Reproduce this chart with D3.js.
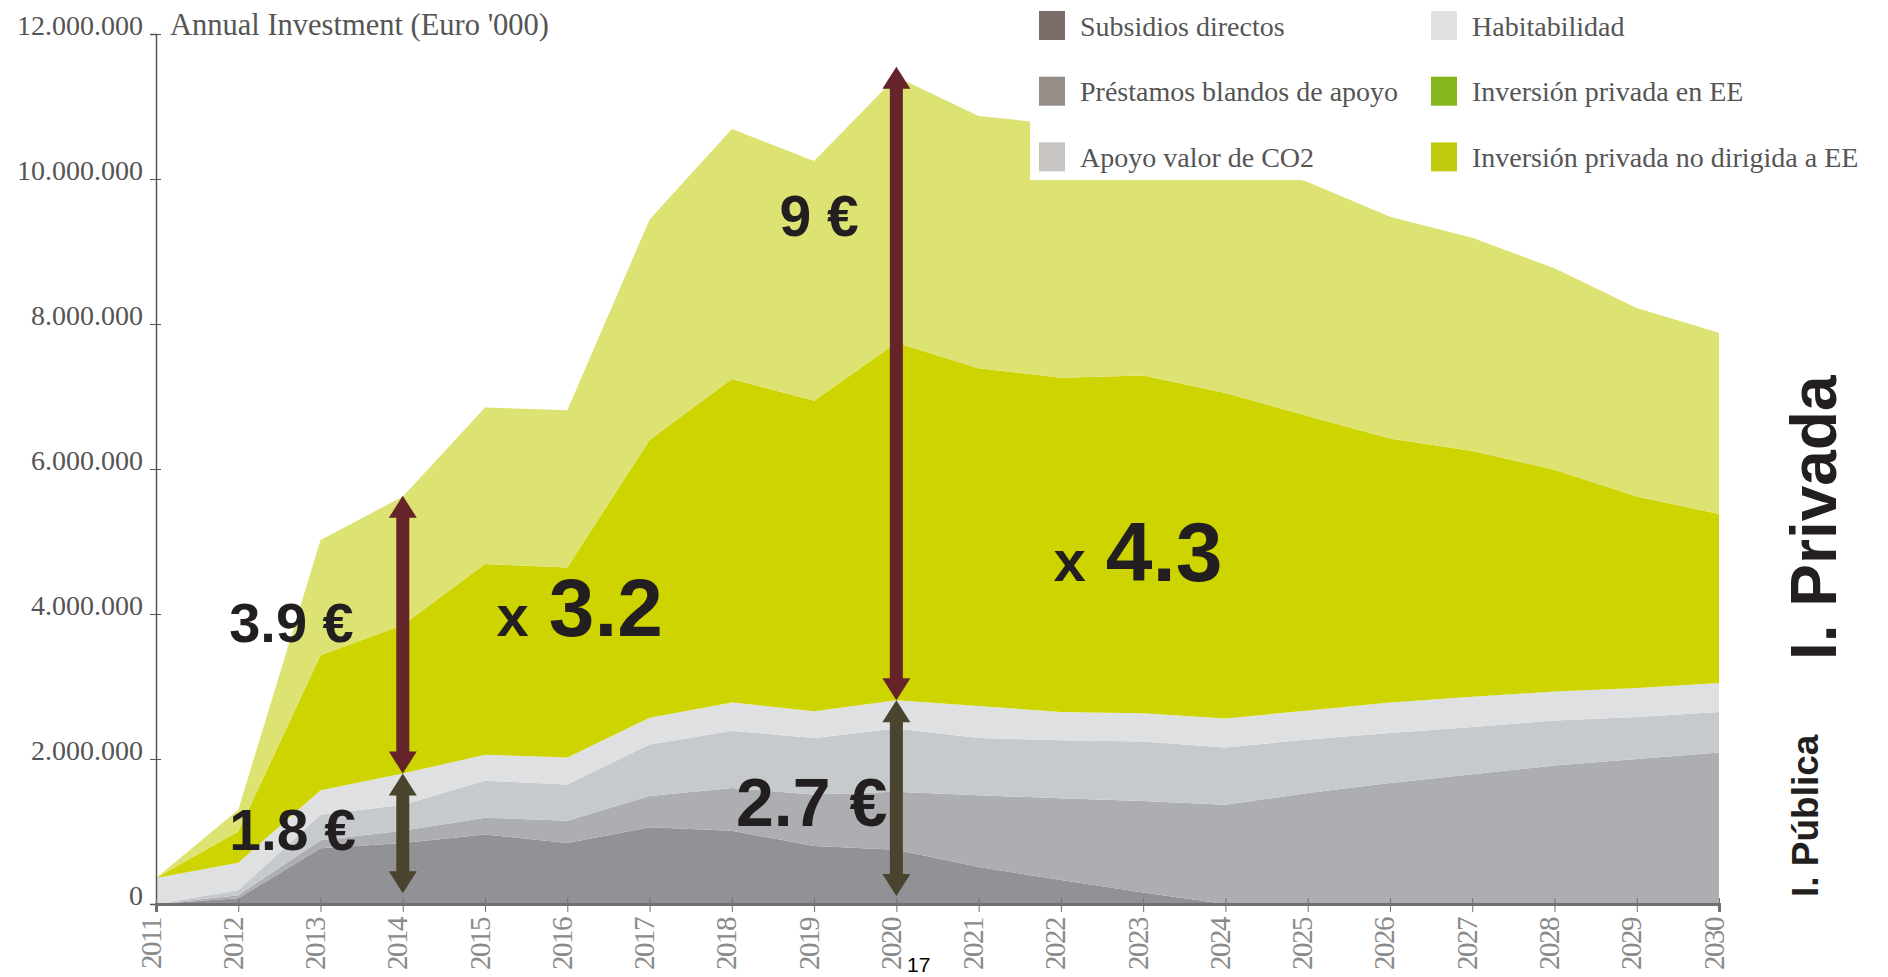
<!DOCTYPE html>
<html>
<meta charset="utf-8">
<title>Annual Investment</title>
<style>
	body { margin: 0; background-color: #ffffff; }
	.tick text, .title, .legend text { font-family: "Liberation Serif", serif; fill: #555555; }
	.note { font-family: "Liberation Sans", Arial, sans-serif; font-weight: bold; fill: #231f20; }
</style>
<body>
<div id="chart"></div>
<script src="https://d3js.org/d3.v7.min.js"></script>
<script>

// Data (Euro '000)
var years = [2011, 2012, 2013, 2014, 2015, 2016, 2017, 2018, 2019, 2020,
	2021, 2022, 2023, 2024, 2025, 2026, 2027, 2028, 2029, 2030];
var subsidios = [0, 80000, 770000, 840000, 960000, 840000, 1060000, 1010000, 800000, 750000,
	510000, 330000, 160000, 0, 0, 0, 0, 0, 0, 0];
var prestamos = [0, 40000, 110000, 170000, 230000, 310000, 430000, 590000, 710000, 800000,
	990000, 1130000, 1260000, 1370000, 1530000, 1670000, 1790000, 1910000, 2000000, 2090000];
var co2 = [0, 70000, 350000, 360000, 510000, 500000, 710000, 790000, 780000, 870000,
	790000, 800000, 820000, 790000, 740000, 690000, 650000, 620000, 580000, 560000];
var habitabilidad = [360000, 380000, 340000, 430000, 360000, 370000, 370000, 390000, 370000, 390000,
	440000, 390000, 390000, 400000, 400000, 420000, 420000, 400000, 400000, 400000];
var privadaEE = [0, 430000, 1860000, 2050000, 2630000, 2620000, 3830000, 4460000, 4280000, 4930000,
	4660000, 4610000, 4660000, 4490000, 4060000, 3640000, 3390000, 3060000, 2640000, 2330000];
var privadaNoEE = [0, 300000, 1590000, 1770000, 2160000, 2170000, 3040000, 3450000, 3310000, 3670000,
	3480000, 3490000, 3260000, 3250000, 3230000, 3060000, 2940000, 2780000, 2600000, 2500000];

var seriesNames = ["Subsidios directos", "Préstamos blandos de apoyo", "Apoyo valor de CO2",
	"Habitabilidad", "Inversión privada en EE", "Inversión privada no dirigida a EE"];
var yTicks = [0, 2000000, 4000000, 6000000, 8000000, 10000000, 12000000];

// arrows: year, from, to
var arrowYears = [2014, 2014, 2020, 2020];
var arrowFrom = [150000, 1800000, 110000, 2810000];
var arrowTo = [1800000, 5630000, 2810000, 11550000];

// colours
var areaColors = ["#929196", "#adaeb1", "#c7cacd", "#dfe0e2", "#cdd400", "#dde372"];
var legendColors = ["#7a6d69", "#968c88", "#c8c4c2", "#e2e0e0", "#85b71f", "#becb0c"];
var arrowColors = ["#4a442e", "#65232a", "#4a442e", "#65232a"];

var width = 1888, height = 977;

var svg = d3.select("#chart").append("svg")
	.attr("width", width)
	.attr("height", height);

var x = d3.scaleLinear().domain([2011, 2030]).range([156, 1719]);
var y = d3.scaleLinear().domain([0, 12000000]).range([904, 34]);

// stack
var table = years.map(function (yr, i) {
	return { year: yr, s0: subsidios[i], s1: prestamos[i], s2: co2[i], s3: habitabilidad[i], s4: privadaEE[i], s5: privadaNoEE[i] };
});
var stack = d3.stack().keys(["s0", "s1", "s2", "s3", "s4", "s5"]);
var layers = stack(table);

var area = d3.area()
	.x(function (d) { return x(d.data.year); })
	.y0(function (d) { return y(d[0]); })
	.y1(function (d) { return y(d[1]); });

svg.append("g").selectAll("path")
	.data(layers).enter().append("path")
	.attr("d", area)
	.style("fill", function (d, i) { return areaColors[i]; });

// axes
var loc = d3.formatLocale({ decimal: ",", thousands: ".", grouping: [3], currency: ["", "€"] });

var yAxis = svg.append("g")
	.attr("transform", "translate(" + x(2011) + ",0)")
	.call(d3.axisLeft(y).tickValues(yTicks).tickSize(6).tickFormat(loc.format(",d")));
yAxis.select(".domain").attr("stroke", "#555").attr("stroke-width", 1.5);
yAxis.selectAll(".tick line").attr("stroke", "#555").attr("x1", 5);
yAxis.selectAll(".tick text").attr("x", -13).attr("dy", 0).style("font-size", "28px");

var xAxis = svg.append("g")
	.attr("transform", "translate(0," + y(0) + ")")
	.call(d3.axisBottom(x).tickValues(years).tickSize(8).tickFormat(d3.format("d")));
xAxis.select(".domain").attr("stroke", "#707070").attr("stroke-width", 3);
xAxis.selectAll(".tick line").attr("stroke", "#707070").attr("y1", -6);
xAxis.selectAll(".tick text")
	.attr("y", 0).attr("dy", 0)
	.attr("text-anchor", "end")
	.attr("transform", "translate(4,14) rotate(-90)")
	.style("font-size", "29px")
	.style("letter-spacing", "-1.5px")
	.style("fill", "#8a8a8a");

svg.append("text")
	.attr("class", "title")
	.attr("x", 170)
	.attr("y", 35)
	.style("font-size", "30.5px")
	.text("Annual Investment (Euro '000)");

// double-headed arrows
var headLen = 22, headHalf = 14, shaftHalf = 6.5;
function arrowPath(yr, from, to) {
	var cx = x(yr), top = y(to), bot = y(from);
	return "M" + cx + "," + top +
		"L" + (cx + headHalf) + "," + (top + headLen) +
		"L" + (cx + shaftHalf) + "," + (top + headLen) +
		"L" + (cx + shaftHalf) + "," + (bot - headLen) +
		"L" + (cx + headHalf) + "," + (bot - headLen) +
		"L" + cx + "," + bot +
		"L" + (cx - headHalf) + "," + (bot - headLen) +
		"L" + (cx - shaftHalf) + "," + (bot - headLen) +
		"L" + (cx - shaftHalf) + "," + (top + headLen) +
		"L" + (cx - headHalf) + "," + (top + headLen) + "Z";
}

svg.append("g").selectAll("path")
	.data(arrowYears).enter().append("path")
	.attr("d", function (d, i) { return arrowPath(d, arrowFrom[i], arrowTo[i]); })
	.style("fill", function (d, i) { return arrowColors[i]; });

// annotations
function note(yr, val, size, txt) {
	return svg.append("text").attr("class", "note")
		.attr("x", x(yr)).attr("y", y(val))
		.style("font-size", size + "px").text(txt);
}
note(2011.89, 3620000, 56, "3.9 €");
note(2011.89, 740000, 57, "1.8 €");
note(2018.58, 9220000, 57, "9 €");
note(2018.05, 1080000, 68, "2.7 €");

var n1 = svg.append("text").attr("class", "note").attr("x", x(2015.14)).attr("y", y(3700000));
n1.append("tspan").style("font-size", "58px").text("x");
n1.append("tspan").attr("dx", 20).style("font-size", "82px").text("3.2");
var n2 = svg.append("text").attr("class", "note").attr("x", x(2021.91)).attr("y", y(4450000));
n2.append("tspan").style("font-size", "58px").text("x");
n2.append("tspan").attr("dx", 20).style("font-size", "84px").text("4.3");

svg.append("text").attr("class", "note")
	.attr("transform", "translate(1836,660) rotate(-90)")
	.style("font-size", "64px")
	.text("I. Privada");
svg.append("text").attr("class", "note")
	.attr("transform", "translate(1818,897) rotate(-90)")
	.style("font-size", "37px")
	.text("I. Pública");

// legend
var legend = svg.append("g").attr("class", "legend");
legend.append("rect")
	.attr("x", 1030).attr("y", 0)
	.attr("width", width - 1030).attr("height", 180)
	.style("fill", "#ffffff");

var item = legend.selectAll(".item")
	.data(seriesNames).enter().append("g")
	.attr("class", "item")
	.attr("transform", function (d, i) {
		return "translate(" + (i < 3 ? 1039 : 1431) + "," + (25.5 + (i % 3) * 65.7) + ")";
	});
item.append("rect")
	.attr("x", 0).attr("y", -14.5)
	.attr("width", 26).attr("height", 29)
	.style("fill", function (d, i) { return legendColors[i]; });
item.append("text")
	.attr("x", 41).attr("y", 10)
	.style("font-size", "28px")
	.text(function (d) { return d; });

svg.append("text")
	.attr("x", 907).attr("y", 972)
	.style("font-family", "'Liberation Sans Narrow', 'Liberation Sans', sans-serif")
	.style("font-size", "21px")
	.style("fill", "#000")
	.text("17");

</script>
</body>
</html>
